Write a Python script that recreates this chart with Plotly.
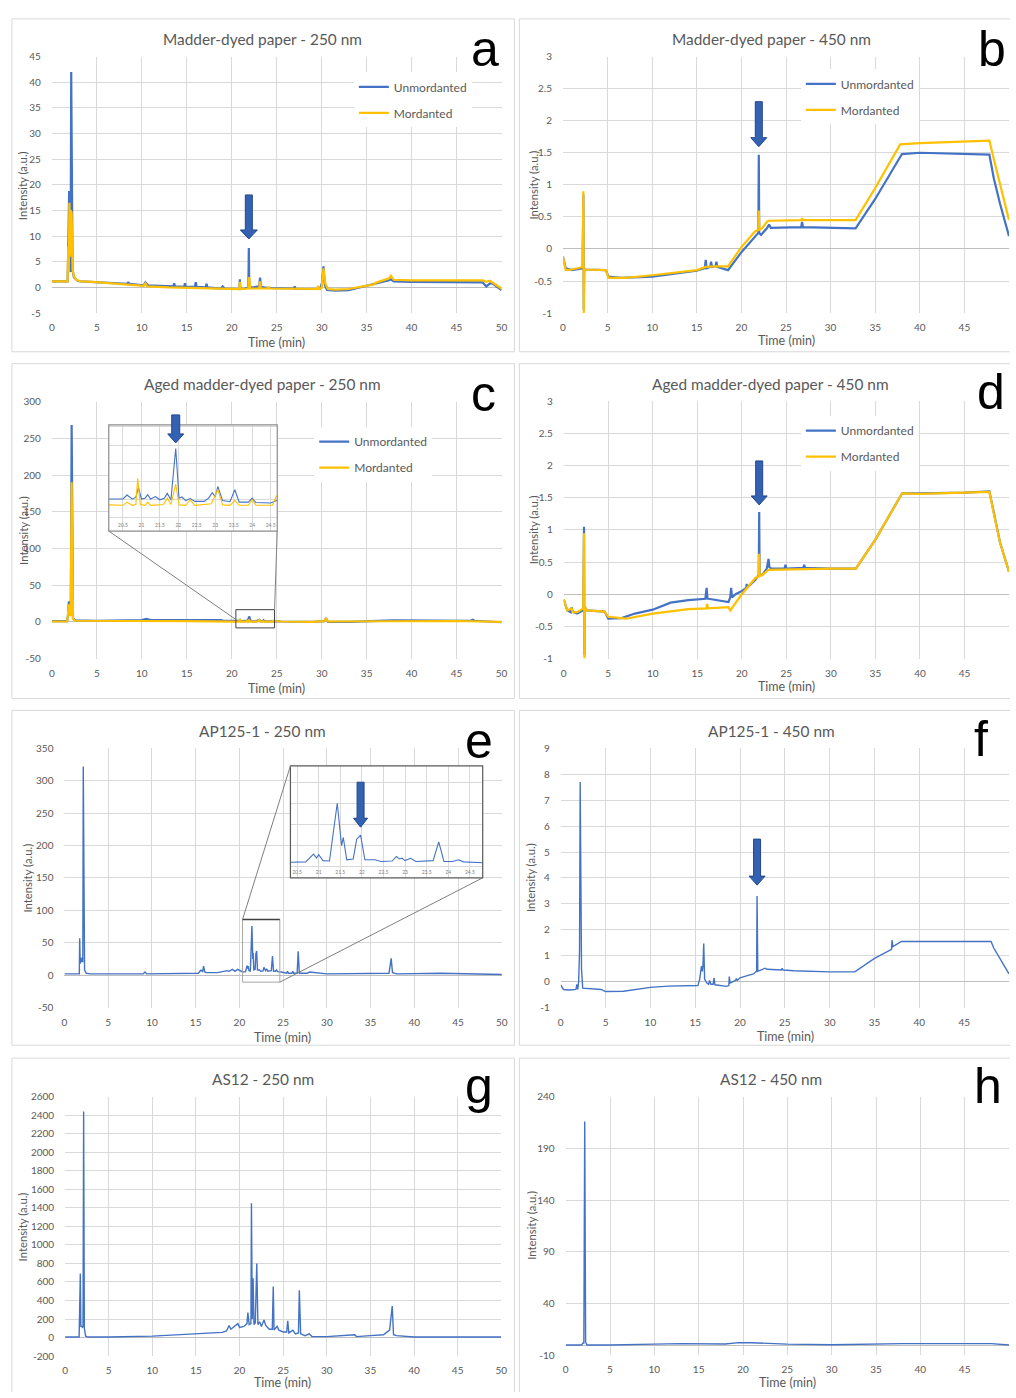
import numpy as np
import plotly.graph_objects as go

W, H = 1016, 1398


def fx(p):
    return p / W


def fy(p):
    return 1 - p / H


BLUE = "#4472C4"
YELLOW = "#FFC000"
GRID = "#D9D9D9"
TEXT = "#595959"
ARROW_FILL = "#3462B3"
ARROW_EDGE = "#22468A"
FONT = "Lato"

# ---------------- chromatogram data: time (min) / intensity (a.u.) ----------------
# a) Madder-dyed paper, 250 nm
A_UN_T = [0, 1.75, 1.85, 1.92, 2.0, 2.08, 2.15, 2.22, 2.3, 2.45, 2.7, 2.85, 3.2, 4.5, 6, 7.5, 8.4, 8.5, 8.6,
          10.2, 10.4, 10.7, 12.5, 13.5, 13.6, 13.7, 14.7, 14.8, 14.9, 15.9, 16.0, 16.1, 17.1, 17.2, 17.3,
          18.8, 19.0, 19.2, 20.5, 20.85, 20.9, 20.95, 21.5, 21.85, 21.9, 21.95, 22.3, 23.05, 23.15, 23.25,
          24, 26.9, 27.0, 27.1, 29.8, 30.05, 30.2, 30.35, 30.6, 31.5, 33, 35, 37.5, 37.7, 38.0, 40, 45,
          47.9, 48.3, 48.8, 49.2, 50]
A_UN_V = [1.2, 1.2, 10, 18.8, 5, 3, 42, 14, 3.5, 2.0, 1.6, 1.3, 1.2, 1.1, 1.0, 0.8, 0.7, 1.1, 0.7,
          0.4, 1.0, 0.4, 0.2, 0.2, 0.8, 0.2, 0.1, 0.8, 0.1, 0.1, 1.0, 0.1, 0.0, 0.7, 0.0,
          -0.2, 0.2, -0.2, -0.3, -0.3, 1.6, -0.3, -0.2, 0.0, 7.7, 0.0, 0.0, 0.2, 1.9, 0.1,
          -0.1, -0.2, 0.2, -0.3, -0.3, 1.0, 4.1, 0.5, -0.5, -0.6, -0.5, 0.3, 1.4, 1.6, 1.2, 1.1, 1.1,
          1.0, 0.2, 0.9, 0.5, -0.5]
A_MO_T = [0, 1.75, 1.82, 1.88, 1.95, 2.02, 2.1, 2.2, 2.3, 2.45, 2.7, 3.2, 4.5, 7.5, 10.2, 10.4, 10.6,
          13, 16, 18, 19, 20.5, 20.85, 20.9, 20.95, 21.85, 21.95, 22.05, 23.05, 23.15, 23.25, 24, 24.1,
          24.2, 27, 29.5, 29.6, 29.7, 30.0, 30.2, 30.4, 30.7, 31.5, 33, 35.8, 36.0, 37.5, 37.7, 38.0,
          40, 47.9, 48.3, 48.7, 49.1, 50]
A_MO_V = [1.2, 1.2, 8, 3, 16.5, 6, 15, 14.5, 3.5, 2.2, 1.5, 1.2, 1.1, 0.7, 0.3, 0.8, 0.2,
          0.0, -0.1, -0.2, -0.3, -0.3, -0.3, 1.1, -0.3, -0.2, 2.0, -0.2, -0.2, 1.2, -0.2, -0.2, 0.2,
          -0.2, -0.3, -0.3, 0.3, -0.3, -0.1, 3.7, 0.8, -0.3, -0.4, -0.3, 0.6, 0.9, 1.8, 2.3, 1.5,
          1.4, 1.4, 1.1, 1.3, 0.8, -0.2]

# b) Madder-dyed paper, 450 nm
B_UN_T = [0, 0.3, 1.0, 2.2, 2.28, 2.33, 2.38, 2.5, 4.8, 5.1, 6.5, 10, 15, 15.9, 16.0, 16.1, 16.5, 16.6,
          16.7, 17.1, 17.2, 17.3, 18.5, 20, 21.5, 21.9, 21.95, 22.0, 22.2, 22.9, 23.1, 23.3, 26.7, 26.8,
          26.9, 30, 32.8, 35, 38, 40, 45, 47.8, 48.3, 49, 50]
B_UN_V = [-0.12, -0.3, -0.33, -0.3, 0.85, -0.95, -0.3, -0.32, -0.33, -0.43, -0.45, -0.43, -0.34, -0.3,
          -0.17, -0.3, -0.28, -0.2, -0.28, -0.27, -0.2, -0.28, -0.33, -0.05, 0.18, 0.25, 1.47, 0.25,
          0.22, 0.33, 0.38, 0.33, 0.34, 0.42, 0.34, 0.33, 0.32, 0.78, 1.48, 1.5, 1.48, 1.47, 1.1, 0.7,
          0.2]
B_MO_T = [0, 0.3, 1.0, 2.2, 2.28, 2.33, 2.38, 2.5, 4.8, 5.1, 7, 10, 15, 16, 17, 18.5, 20, 21.5, 21.9,
          21.95, 22.02, 22.3, 22.9, 23.1, 26.7, 26.8, 26.9, 30, 32.8, 35, 37.8, 40, 45, 47.8, 48.3, 49,
          50]
B_MO_V = [-0.12, -0.33, -0.32, -0.28, 0.9, -1.0, -0.3, -0.32, -0.33, -0.45, -0.45, -0.41, -0.33, -0.28,
          -0.27, -0.27, 0.03, 0.27, 0.3, 0.6, 0.3, 0.32, 0.43, 0.44, 0.45, 0.48, 0.45, 0.45, 0.45, 0.95,
          1.63, 1.65, 1.67, 1.69, 1.4, 1.0, 0.45]

# c) Aged madder-dyed paper, 250 nm
C_UN_T = [0, 1.7, 1.8, 1.9, 2.0, 2.1, 2.2, 2.35, 2.6, 5, 10, 10.5, 11, 15, 16, 16.3, 18.5, 18.8, 19.1,
          20.12, 20.5, 20.61, 20.75, 20.85, 20.92, 21.0, 21.1, 21.17, 21.25, 21.38, 21.5, 21.62, 21.7,
          21.8, 21.93, 22.02, 22.1, 22.2, 22.32, 22.45, 22.7, 22.82, 22.92, 23.0, 23.07, 23.2, 23.4,
          23.53, 23.65, 23.9, 24.0, 24.1, 24.5, 24.66, 24.8, 25.5, 27, 29, 30.3, 30.5, 30.7, 33, 38, 45,
          46.6, 46.8, 47, 50]
C_UN_V = [1, 1, 10, 28, 15, 8, 268, 5, 2, 1.5, 2.5, 4, 2.5, 2.5, 3, 2, 2, 2.5, 1.5,
          1.1, 1.1, 1.6, 1.1, 1.3, 2.55, 1.1, 1.2, 1.65, 1.1, 1.4, 1.0, 1.2, 1.8,
          1.0, 7.46, 1.2, 1.35, 0.9, 1.15, 0.8, 0.8, 1.2, 1.9, 1.4, 2.67, 0.9, 0.75,
          2.26, 0.7, 0.7, 1.2, 0.65, 0.6, 0.9, 1, 0.5, 0, 0, 1, 5, 0, 0, 2, 1.5,
          1.5, 3, 1.5, -0.5]
C_MO_T = [0, 1.7, 1.8, 1.9, 2.0, 2.1, 2.2, 2.35, 2.6, 10, 15, 20.12, 20.5, 20.61, 20.75, 20.85, 20.9,
          20.97, 21.1, 21.17, 21.25, 21.6, 21.7, 21.8, 21.93, 22.02, 22.2, 22.32, 22.45, 22.9, 23.07,
          23.2, 23.4, 23.53, 23.65, 23.9, 24.0, 24.1, 24.55, 24.66, 24.8, 25.5, 29, 30.3, 30.5, 30.7,
          33, 38, 45, 50]
C_MO_V = [0.5, 0.5, 12, 24, 12, 8, 190, 4, 1.5, 1.5, 1.0, 0.35, 0.3, 0.7, 0.3, 0.4, 3.7,
          0.4, 0.3, 0.7, 0.3, 0.4, 1.2, 0.4, 2.96, 0.35, 0.3, 1.0, 0.3, 0.5, 2.3,
          0.35, 0.3, 0.9, 0.3, 0.3, 1.0, 0.3, 0.3, 1.5, 1.0, 0.5, 0.0, 1, 5, 0.5,
          0.5, 1.5, 1.2, 0.0]

# d) Aged madder-dyed paper, 450 nm
D_UN_T = [0, 0.4, 0.8, 0.9, 1.0, 1.5, 2.2, 2.28, 2.33, 2.38, 2.6, 4.6, 5.0, 6.5, 8, 10, 12, 14, 15.9,
          16.05, 16.15, 16.25, 18.5, 18.7, 18.8, 18.9, 19.3, 20, 20.5, 20.55, 20.6, 21.5, 21.9, 21.95,
          22.0, 22.3, 22.8, 23.0, 23.1, 23.3, 24.8, 24.9, 25.0, 26.9, 27.0, 27.1, 30, 32.8, 35, 38, 40,
          45, 47.8, 48.3, 49, 50]
D_UN_V = [-0.08, -0.25, -0.28, -0.2, -0.27, -0.3, -0.25, 1.05, -0.95, -0.2, -0.25, -0.27, -0.38, -0.37,
          -0.3, -0.24, -0.13, -0.09, -0.07, 0.1, -0.07, -0.07, -0.12, -0.05, 0.1, -0.05, 0.0, 0.05,
          0.1, 0.16, 0.1, 0.22, 0.3, 1.28, 0.3, 0.3, 0.4, 0.55, 0.42, 0.4, 0.4, 0.46, 0.4, 0.41, 0.46,
          0.41, 0.4, 0.4, 0.85, 1.57, 1.57, 1.58, 1.6, 1.25, 0.8, 0.35]
D_MO_T = [0, 0.4, 0.9, 1.0, 1.5, 2.2, 2.28, 2.33, 2.38, 2.6, 4.6, 5.0, 7, 10, 14, 16, 16.1, 16.2, 18.5,
          18.7, 20, 21.5, 21.9, 21.95, 22.0, 22.3, 23.0, 30, 32.8, 35, 38, 40, 45, 47.8, 48.3, 49, 50]
D_MO_V = [-0.08, -0.25, -0.22, -0.28, -0.28, -0.22, 0.95, -1.0, -0.2, -0.25, -0.27, -0.35, -0.38, -0.3,
          -0.23, -0.22, -0.15, -0.22, -0.2, -0.25, 0.0, 0.25, 0.28, 0.63, 0.28, 0.3, 0.38, 0.4, 0.4,
          0.85, 1.57, 1.56, 1.58, 1.59, 1.25, 0.8, 0.35]

# e) AP125-1, 250 nm
E_T = [0, 1.7, 1.74, 1.8, 1.9, 1.95, 2.05, 2.1, 2.15, 2.22, 2.3, 2.5, 3, 9.0, 9.2, 9.4, 15.3, 15.6,
       15.8, 15.9, 16.05, 16.2, 17.0, 17.5, 18.6, 18.8, 19.2, 19.5, 19.8, 20.2, 20.36, 20.7, 20.88,
       20.95, 21.0, 21.1, 21.25, 21.43, 21.53, 21.57, 21.65, 21.8, 21.88, 21.97, 22.07, 22.3, 22.45,
       22.7, 22.8, 22.87, 22.93, 23.0, 23.13, 23.25, 23.65, 23.78, 23.9, 24.1, 24.24, 24.35, 24.8,
       25.4, 25.5, 25.6, 26.0, 26.1, 26.2, 26.6, 26.72, 26.85, 27.8, 28.0, 30, 37.1, 37.35, 37.5, 38,
       43, 50]
E_V = [2, 2, 57, 18, 27, 20, 27, 20, 322, 25, 8, 3, 2, 2, 5, 2, 3, 8,
       5, 14, 5, 4, 4, 4, 7, 6, 9, 6, 9, 6, 5, 5.5, 14.8,
       10, 14, 7, 6.5, 75.7, 25, 34.7, 8, 9, 32.6, 37.4, 8, 8, 6,
       6.5, 12, 9, 10, 7, 9.7, 6, 7, 29.4, 6, 6, 8, 5.5, 5,
       3, 6, 3, 3, 6, 3, 3, 37, 3, 3, 5, 2, 3, 26, 4, 2,
       3, 1]

# f) AP125-1, 450 nm
F_T = [0, 0.3, 1.0, 1.7, 1.8, 1.9, 2.0, 2.1, 2.17, 2.25, 2.32, 2.45, 4.5, 5.0, 7, 10, 12, 15.3, 15.5,
       15.7, 15.8, 15.87, 15.95, 16.05, 16.3, 16.5, 16.6, 16.75, 17.0, 17.1, 17.2, 18.5, 18.75, 18.8,
       18.9, 19.5, 19.6, 19.7, 20, 21, 21.5, 21.75, 21.85, 21.9, 21.98, 22.8, 23.0, 24.6, 24.7, 24.8,
       26, 30, 32.8, 35, 36.9, 36.95, 37.05, 38, 48, 48.3, 49, 50]
F_V = [-0.12, -0.3, -0.32, -0.3, -0.1, -0.3, 0.0, 1.2, 7.7, 1.2, 0.5, -0.25, -0.3, -0.38, -0.37,
       -0.22, -0.17, -0.15, 0.1, 0.6, 0.4, 0.65, 1.47, 0.1, -0.05, -0.1, 0.05, -0.1, -0.1, 0.15,
       -0.12, -0.18, -0.15, 0.2, -0.05, 0.05, 0.12, 0.05, 0.15, 0.25, 0.3, 0.38, 0.4, 3.3, 0.4,
       0.52, 0.48, 0.45, 0.52, 0.45, 0.42, 0.38, 0.38, 0.9, 1.25, 1.6, 1.35, 1.55, 1.55, 1.3, 0.9,
       0.3]

# g) AS12, 250 nm
G_T = [0, 1.6, 1.74, 1.8, 1.9, 2.0, 2.05, 2.12, 2.2, 2.35, 2.6, 5, 10, 15, 15.5, 17, 18, 18.5, 18.8,
       19.0, 19.3, 19.8, 20.0, 20.5, 20.85, 20.95, 21.1, 21.3, 21.36, 21.45, 21.55, 21.65, 21.8, 21.97,
       22.1, 22.3, 22.5, 22.8, 23.0, 23.4, 23.75, 23.86, 23.95, 24.3, 24.5, 25.0, 25.4, 25.52, 25.65,
       26.1, 26.4, 26.75, 26.85, 27.0, 27.5, 28.0, 28.3, 30, 33.2, 33.4, 35, 36.5, 37.2, 37.5, 37.65,
       38, 40, 50]
G_V = [5, 5, 690, 120, 120, 110, 120, 2440, 100, 15, 5, 5, 15, 35, 45, 45, 55, 70, 130,
       90, 110, 150, 110, 120, 150, 270, 140, 150, 1450, 200, 640, 140, 160, 800,
       140, 170, 120, 190, 130, 90, 90, 550, 80, 120, 80, 60, 60, 180, 50,
       80, 40, 50, 510, 40, 20, 40, 10, 10, 30, 10, 20, 30, 80, 340, 30,
       20, 5, 5]

# h) AS12, 450 nm
H_T = [0, 1.8, 1.95, 2.05, 2.15, 2.25, 2.4, 5, 10, 13, 18, 19.5, 21, 23, 25, 30, 35, 38, 48, 50]
H_V = [0, 0, 2, 2, 216, 3, 0, 0, 0.8, 1.3, 1.0, 2.3, 2.2, 1.5, 0.8, 0.3, 0.8, 1.3, 1.3, 0]

SERIES_NAMES = ["Unmordanted", "Mordanted"]
X_TICKS = list(range(0, 51, 5))


def peak_in(ts, vs, lo, hi):
    """Highest point of a series inside a time window."""
    best = max((v, t) for t, v in zip(ts, vs) if lo <= t <= hi)
    return best[1], best[0]


# Panel geometry (pixels) and axis settings
panels = [
    dict(n=1, letter="a", title="Madder-dyed paper - 250 nm", xd=(49.3, 503), yd=(50, 309),
         yr=(-5, 45), yt=np.arange(-5, 46, 5), tpos=(262, 32), lpos=(486, 62),
         xtp=(276, 339), ytp=(20, 180),
         series=[(A_UN_T, A_UN_V, BLUE), (A_MO_T, A_MO_V, YELLOW)], lw=2.2, legend="legend",
         legpos=(354, 66)),
    dict(n=2, letter="b", title="Madder-dyed paper - 450 nm", xd=(565, 1015), yd=(50, 309),
         yr=(-1, 3), yt=np.arange(-1, 3.01, 0.5), tpos=(775, 32), lpos=(998, 62),
         xtp=(790, 337), ytp=(535, 180),
         series=[(B_UN_T, B_UN_V, BLUE), (B_MO_T, B_MO_V, YELLOW)], lw=2.2, legend="legend2",
         legpos=(805, 63)),
    dict(n=3, letter="c", title="Aged madder-dyed paper - 250 nm", xd=(49.3, 503), yd=(398.3, 657.7),
         yr=(-50, 300), yt=np.arange(-50, 301, 50), tpos=(262, 381), lpos=(485, 410),
         xtp=(276, 688), ytp=(20, 528),
         series=[(C_UN_T, C_UN_V, BLUE), (C_MO_T, C_MO_V, YELLOW)], lw=2.2, legend="legend3",
         legpos=(314, 424)),
    dict(n=4, letter="d", title="Aged madder-dyed paper - 450 nm", xd=(565.7, 1015), yd=(398, 657.7),
         yr=(-1, 3), yt=np.arange(-1, 3.01, 0.5), tpos=(774, 381), lpos=(997, 408),
         xtp=(790, 686), ytp=(535, 528),
         series=[(D_UN_T, D_UN_V, BLUE), (D_MO_T, D_MO_V, YELLOW)], lw=2.2, legend="legend4",
         legpos=(805, 413)),
    dict(n=5, letter="e", title="AP125-1 - 250 nm", xd=(62, 503.3), yd=(748.3, 1010),
         yr=(-50, 350), yt=np.arange(-50, 351, 50), tpos=(262, 731), lpos=(480, 760),
         xtp=(282, 1040), ytp=(25, 879), series=[(E_T, E_V, BLUE)], lw=1.4),
    dict(n=6, letter="f", title="AP125-1 - 450 nm", xd=(562.7, 1015), yd=(748.3, 1010),
         yr=(-1, 9), yt=np.arange(-1, 10, 1), tpos=(775, 731), lpos=(987, 758),
         xtp=(789, 1039), ytp=(533, 879), series=[(F_T, F_V, BLUE)], lw=1.4),
    dict(n=7, letter="g", title="AS12 - 250 nm", xd=(62.7, 502.7), yd=(1100, 1361.7),
         yr=(-200, 2600), yt=np.arange(-200, 2601, 200), tpos=(262, 1082), lpos=(480, 1108),
         xtp=(282, None), ytp=(20, 1231), series=[(G_T, G_V, BLUE)], lw=1.4),
    dict(n=8, letter="h", title="AS12 - 450 nm", xd=(567.7, 1015), yd=(1100, 1361),
         yr=(-10, 240), yt=np.arange(-10, 241, 50), tpos=(775, 1082), lpos=(994, 1108),
         xtp=(792, None), ytp=(533, 1230), series=[(H_T, H_V, BLUE)], lw=1.4),
]


def axis_key(letter, n):
    return f"{letter}axis" if n == 1 else f"{letter}axis{n}"


def axis_ref(letter, n):
    return letter if n == 1 else f"{letter}{n}"


fig = go.Figure()
layout = dict(width=W, height=H, margin=dict(l=0, r=0, t=0, b=0), autosize=False,
              paper_bgcolor="white", plot_bgcolor="white", font=dict(family=FONT, color=TEXT),
              showlegend=True, hovermode=False)
annotations = []
shapes = []


def frame_edge(x0, y0, x1, y1):
    return dict(type="line", xref="paper", yref="paper", x0=fx(x0), x1=fx(x1), y0=fy(y0),
                y1=fy(y1), line=dict(color=GRID, width=1), layer="below")


# Panel frames; right-column and bottom-row frames run on past the page edge
for row_top, row_bot in [(12, 348), (360, 698), (710, 1048), (1061, None)]:
    for left, right in [(9, 516), (521, None)]:
        r = right if right is not None else W
        b = row_bot if row_bot is not None else H
        shapes.append(frame_edge(left, row_top, r, row_top))
        shapes.append(frame_edge(left, row_top, left, b))
        if right is not None:
            shapes.append(frame_edge(right, row_top, right, b))
        if row_bot is not None:
            shapes.append(frame_edge(left, row_bot, r, row_bot))

for p in panels:
    n = p["n"]
    xa, ya = axis_ref("x", n), axis_ref("y", n)
    right_col = p["xd"][1] > W - 5
    for i, (ts, vs, col) in enumerate(p["series"]):
        leg = p.get("legend")
        fig.add_trace(go.Scatter(
            x=ts, y=vs, mode="lines", name=SERIES_NAMES[i], xaxis=xa, yaxis=ya,
            line=dict(color=col, width=p["lw"]), showlegend=leg is not None,
            legend=leg if leg else "legend", legendgroup=f"{n}-{i}"))
    # the last time label of the right column sits on the page edge, so it is left blank
    xtext = [f"{v:g}" if not (right_col and v == 50) else "" for v in X_TICKS]
    layout[axis_key("x", n)] = dict(
        domain=[fx(p["xd"][0]), fx(p["xd"][1])], anchor=ya, range=[0, 50],
        tickvals=X_TICKS, ticktext=xtext, showgrid=True, gridcolor=GRID,
        gridwidth=1, zeroline=False, showline=False, ticks="outside", ticklen=5,
        tickcolor="rgba(0,0,0,0)", tickfont=dict(size=10, color=TEXT))
    yt = [float(v) for v in p["yt"]]
    layout[axis_key("y", n)] = dict(
        domain=[fy(p["yd"][1]), fy(p["yd"][0])], anchor=xa, range=list(p["yr"]),
        tickvals=yt, ticktext=[f"{v:g}" for v in yt], showgrid=True, gridcolor=GRID, gridwidth=1,
        zeroline=True, zerolinecolor="#BFBFBF", zerolinewidth=1, showline=False, ticks="outside",
        ticklen=8, tickcolor="rgba(0,0,0,0)", tickfont=dict(size=10, color=TEXT))
    annotations.append(dict(text=p["title"], x=fx(p["tpos"][0]), y=fy(p["tpos"][1]), xref="paper",
                            yref="paper", showarrow=False, xanchor="center", yanchor="middle",
                            font=dict(size=15.4, color=TEXT, family=FONT)))
    annotations.append(dict(text=p["letter"], x=fx(p["lpos"][0]), y=fy(p["lpos"][1] + 11),
                            xref="paper", yref="paper", showarrow=False, xanchor="center",
                            yanchor="bottom", font=dict(size=50, color="black",
                                                        family="Liberation Sans")))
    xt_y = p["xtp"][1]
    annotations.append(dict(text="Time (min)", x=fx(p["xtp"][0]),
                            y=fy(xt_y) if xt_y is not None else 0, xref="paper",
                            yref="paper", showarrow=False, xanchor="center",
                            yanchor="middle" if xt_y is not None else "bottom",
                            font=dict(size=12.5, color=TEXT, family=FONT)))
    annotations.append(dict(text="Intensity (a.u.)", x=fx(p["ytp"][0]), y=fy(p["ytp"][1]),
                            xref="paper", yref="paper", showarrow=False, textangle=-90,
                            xanchor="center", yanchor="middle",
                            font=dict(size=11.3, color=TEXT, family=FONT)))
    if p.get("legend"):
        layout[p["legend"]] = dict(
            x=fx(p["legpos"][0]), y=fy(p["legpos"][1]), xanchor="left", yanchor="top",
            bgcolor="white", borderwidth=0, font=dict(size=12, color=TEXT, family=FONT),
            tracegroupgap=7, itemwidth=30, traceorder="grouped")

# ---------------- zoomed insets (same series, narrower window) ----------------
insets = [
    dict(n=9, xd=(106.7, 276.7), yd=(421.7, 529), xr=(20.116, 24.68), yr=(-2.95, 10.46),
         ydt=2.3, y0=-1.3, series=[(C_UN_T, C_UN_V, BLUE), (C_MO_T, C_MO_V, YELLOW)],
         border="#8C8C8C"),
    dict(n=10, xd=(290, 484), yd=(766, 879), xr=(20.346, 24.798), yr=(-13.6, 120.4),
         ydt=25, y0=0, series=[(E_T, E_V, BLUE)], border="#595959"),
]
for s in insets:
    n = s["n"]
    xa, ya = axis_ref("x", n), axis_ref("y", n)
    for i, (ts, vs, col) in enumerate(s["series"]):
        fig.add_trace(go.Scatter(x=ts, y=vs, mode="lines", xaxis=xa, yaxis=ya, showlegend=False,
                                 line=dict(color=col, width=1.1)))
    layout[axis_key("x", n)] = dict(
        domain=[fx(s["xd"][0]), fx(s["xd"][1])], anchor=ya, range=list(s["xr"]), dtick=0.5,
        tick0=0, showgrid=True, gridcolor=GRID, gridwidth=1, zeroline=False, showline=False,
        ticks="", ticklabelposition="inside", tickfont=dict(size=5, color="#7F7F7F"))
    layout[axis_key("y", n)] = dict(
        domain=[fy(s["yd"][1]), fy(s["yd"][0])], anchor=xa, range=list(s["yr"]), dtick=s["ydt"],
        tick0=s["y0"], showgrid=True, gridcolor=GRID, gridwidth=1, zeroline=False,
        showline=False, showticklabels=False, ticks="")
    # white backing that hides the main panel's gridlines behind the inset
    shapes.append(dict(type="rect", xref=xa, yref=ya, x0=s["xr"][0], x1=s["xr"][1],
                       y0=s["yr"][0], y1=s["yr"][1], fillcolor="white",
                       line=dict(width=0), layer="below"))
    shapes.append(dict(type="rect", xref="paper", yref="paper", x0=fx(s["xd"][0]),
                       x1=fx(s["xd"][1]), y0=fy(s["yd"][1]), y1=fy(s["yd"][0]),
                       line=dict(color=s["border"], width=1.2), layer="above"))

# Zoom windows on the main panels and their leader lines
shapes += [
    dict(type="rect", xref="x3", yref="y3", x0=20.46, x1=24.76, y0=-8.2, y1=16.6,
         line=dict(color="#404040", width=1), layer="above"),
    dict(type="line", xref="paper", yref="paper", x0=fx(106.7), y0=fy(529), x1=fx(235),
         y1=fy(618.3), line=dict(color="#7F7F7F", width=1), layer="above"),
    dict(type="line", xref="paper", yref="paper", x0=fx(276.7), y0=fy(529), x1=fx(274),
         y1=fy(608.3), line=dict(color="#7F7F7F", width=1), layer="above"),
    dict(type="rect", xref="x5", yref="y5", x0=20.36, x1=24.62, y0=-10.7, y1=86,
         line=dict(color="#A6A6A6", width=1), layer="above"),
    dict(type="line", xref="x5", yref="y5", x0=20.36, x1=24.62, y0=86, y1=86,
         line=dict(color="#404040", width=1.5), layer="above"),
    dict(type="line", xref="paper", yref="paper", x0=fx(241.7), y0=fy(921), x1=fx(290),
         y1=fy(766), line=dict(color="#7F7F7F", width=1), layer="above"),
    dict(type="line", xref="paper", yref="paper", x0=fx(279.3), y0=fy(984.3), x1=fx(484),
         y1=fy(879), line=dict(color="#7F7F7F", width=1), layer="above"),
]


def block_arrow(xref, yref, x, y, gap, length, shaft, head, head_h):
    """Down-pointing block arrow whose tip sits `gap` px above (x, y)."""
    sw, hw = shaft / 2, head / 2
    b = gap + head_h
    top = gap + length
    path = (f"M 0,{gap} L {hw},{b} L {sw},{b} L {sw},{top} L {-sw},{top} "
            f"L {-sw},{b} L {-hw},{b} Z")
    return dict(type="path", xref=xref, yref=yref, xsizemode="pixel", ysizemode="pixel",
                xanchor=x, yanchor=y, path=path, fillcolor=ARROW_FILL,
                line=dict(color=ARROW_EDGE, width=1), layer="above")


ta, va = peak_in(A_UN_T, A_UN_V, 21, 23)
tb, vb = peak_in(B_UN_T, B_UN_V, 21, 23)
td, vd = peak_in(D_UN_T, D_UN_V, 21, 23)
tf, vf = peak_in(F_T, F_V, 21, 23)
tc, _ = peak_in(C_UN_T, C_UN_V, 21, 23)
te, ve = peak_in(E_T, E_V, 21.8, 22.2)
shapes += [
    block_arrow("x", "y", ta, va, 9, 44, 7, 17, 9),
    block_arrow("x2", "y2", tb, vb, 8, 45, 7, 16, 9),
    block_arrow("x4", "y4", td, vd, 7, 44, 7, 16, 9),
    block_arrow("x6", "y6", tf, vf, 11, 46, 7, 16, 9),
    block_arrow("x9", "paper", tc, fy(440), 0, 28, 8, 16, 9),
    block_arrow("x10", "y10", te, ve, 8, 45, 7, 14, 9),
]

layout["annotations"] = annotations
layout["shapes"] = shapes
fig.update_layout(**layout)
fig.write_html("out.html")
